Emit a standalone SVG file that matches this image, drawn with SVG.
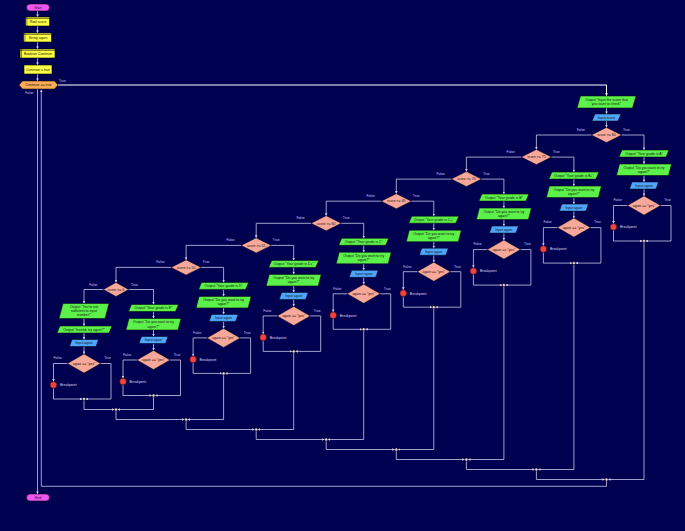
<svg xmlns="http://www.w3.org/2000/svg" width="685" height="531" viewBox="0 0 685 531">
<defs>
<marker id="a" viewBox="0 0 4 4" refX="4" refY="2" markerWidth="2.6" markerHeight="2.6" orient="auto" markerUnits="userSpaceOnUse"><path d="M0,0 L4,2 L0,4 z" fill="#d0d0f0"/></marker>
<marker id="w" viewBox="0 0 4 4" refX="4" refY="2" markerWidth="2.8" markerHeight="2.8" orient="auto" markerUnits="userSpaceOnUse"><path d="M0,0 L4,2 L0,4 z" fill="#ffffff"/></marker>
</defs>
<style>
.c{fill:none;stroke:#c8c8e8;stroke-width:0.8}
.ca{fill:none;stroke:#c8c8e8;stroke-width:0.8;marker-end:url(#a)}
.main{fill:none;stroke:#ffffff;stroke-width:1;marker-end:url(#w)}
.t{font-family:"Liberation Sans",Arial,sans-serif;font-size:3.5px;fill:#111111;text-anchor:middle}
.l{font-family:"Liberation Sans",Arial,sans-serif;font-size:3.4px;fill:#c8c8ff}
.le{font-family:"Liberation Sans",Arial,sans-serif;font-size:3.4px;fill:#c8c8ff;text-anchor:end}
.se{fill:#ee55ee;stroke:#000;stroke-width:0.5}
.dc{fill:#ffff44;stroke:#000;stroke-width:0.6}
.lp{fill:#ffaa55;stroke:#000;stroke-width:0.5}
.out{fill:#5cf04a;stroke:#000;stroke-width:0.5}
.in{fill:#4da6ff;stroke:#000;stroke-width:0.5}
.if{fill:#f8a89a;stroke:#000;stroke-width:0.4}
.bp{fill:#ee4444;stroke:#550000;stroke-width:0.5}
.bt{font-family:"Liberation Sans",Arial,sans-serif;font-size:3.5px;fill:#d8d8ff}
.j{fill:#ffdede;stroke:#000;stroke-width:0.5}
</style>
<rect width="685" height="531" fill="#000050"/>

<g id="connectors">
<path class="ca" d="M37.5 11 V17"/>
<path class="ca" d="M37.5 26 V33"/>
<path class="ca" d="M37.5 42 V49"/>
<path class="ca" d="M37.5 58 V65"/>
<path class="ca" d="M37.5 74 V81"/>
<path class="main" d="M58 85 H606.5 V96"/>
<path class="ca" d="M37.5 89 V494"/>
<path class="ca" d="M606.5 481 V486.3 H41.3 V89.5"/>
<path class="ca" d="M606.5 108 V114"/>
<path class="ca" d="M606.5 121 V127.5"/>
<!-- outer false -->
<path class="ca" d="M591.5 135 H536.4 V149.6"/>
<path class="ca" d="M521.4 157.1 H466.4 V171.6"/>
<path class="ca" d="M451.4 179.1 H396.3 V193.7"/>
<path class="ca" d="M381.3 201.2 H326.2 V215.8"/>
<path class="ca" d="M311.2 223.3 H256.2 V237.9"/>
<path class="ca" d="M241.2 245.4 H186.1 V259.9"/>
<path class="ca" d="M171.1 267.4 H116 V282.5"/>
<path class="ca" d="M103.5 289.5 H84 V303.5"/>
<!-- outer true -->
<path class="ca" d="M621.5 135 H644 V150"/>
<path class="ca" d="M551.4 157.1 H573.9 V172.1"/>
<path class="ca" d="M481.4 179.1 H503.9 V194.1"/>
<path class="ca" d="M411.3 201.2 H433.8 V216.2"/>
<path class="ca" d="M341.2 223.3 H363.7 V238.3"/>
<path class="ca" d="M271.2 245.4 H293.7 V260.4"/>
<path class="ca" d="M201.1 267.4 H223.6 V282.4"/>
<path class="ca" d="M128.5 289.5 H153.5 V304.5"/>
<!-- column k1 -->
<path class="ca" d="M644 157 V164"/><path class="ca" d="M644 175.5 V182"/><path class="ca" d="M644 189 V196"/>
<path class="ca" d="M627.5 205.5 H613.5 V223.7"/><path class="ca" d="M613.5 230.3 V241 H642.5"/><path class="ca" d="M660.5 205.5 H671 V241 H645.5"/>
<!-- column k2 -->
<path class="ca" d="M573.9 179.1 V186.1"/><path class="ca" d="M573.9 197.6 V204.1"/><path class="ca" d="M573.9 211.1 V218.1"/>
<path class="ca" d="M557.4 227.6 H543.4 V245.8"/><path class="ca" d="M543.4 252.4 V263.1 H572.4"/><path class="ca" d="M590.4 227.6 H600.9 V263.1 H575.4"/>
<!-- column k3 -->
<path class="ca" d="M503.9 201.1 V208.1"/><path class="ca" d="M503.9 219.6 V226.1"/><path class="ca" d="M503.9 233.1 V240.1"/>
<path class="ca" d="M487.4 249.6 H473.4 V267.8"/><path class="ca" d="M473.4 274.4 V285.1 H502.4"/><path class="ca" d="M520.4 249.6 H530.9 V285.1 H505.4"/>
<!-- column k4 -->
<path class="ca" d="M433.8 223.2 V230.2"/><path class="ca" d="M433.8 241.7 V248.2"/><path class="ca" d="M433.8 255.2 V262.2"/>
<path class="ca" d="M417.3 271.7 H403.3 V289.9"/><path class="ca" d="M403.3 296.5 V307.2 H432.3"/><path class="ca" d="M450.3 271.7 H460.8 V307.2 H435.3"/>
<!-- column k5 -->
<path class="ca" d="M363.7 245.3 V252.3"/><path class="ca" d="M363.7 263.8 V270.3"/><path class="ca" d="M363.7 277.3 V284.3"/>
<path class="ca" d="M347.2 293.8 H333.2 V312"/><path class="ca" d="M333.2 318.6 V329.3 H362.2"/><path class="ca" d="M380.2 293.8 H390.7 V329.3 H365.2"/>
<!-- column k6 -->
<path class="ca" d="M293.7 267.4 V274.4"/><path class="ca" d="M293.7 285.9 V292.4"/><path class="ca" d="M293.7 299.4 V306.4"/>
<path class="ca" d="M277.2 315.9 H263.2 V334.1"/><path class="ca" d="M263.2 340.7 V351.4 H292.2"/><path class="ca" d="M310.2 315.9 H320.7 V351.4 H295.2"/>
<!-- column k7 -->
<path class="ca" d="M223.6 289.4 V296.4"/><path class="ca" d="M223.6 307.9 V314.4"/><path class="ca" d="M223.6 321.4 V328.4"/>
<path class="ca" d="M207.1 337.9 H193.1 V356.1"/><path class="ca" d="M193.1 362.7 V373.4 H222.1"/><path class="ca" d="M240.1 337.9 H250.6 V373.4 H225.1"/>
<!-- column k8 true -->
<path class="ca" d="M153.5 311.5 V318.5"/><path class="ca" d="M153.5 330 V336.5"/><path class="ca" d="M153.5 343.5 V350.5"/>
<path class="ca" d="M137 360 H123 V378.2"/><path class="ca" d="M123 384.8 V395.5 H152"/><path class="ca" d="M170 360 H180.5 V395.5 H155"/>
<!-- column k8 false -->
<path class="ca" d="M84 318.5 V326"/><path class="ca" d="M84 333 V339.5"/><path class="ca" d="M84 346.5 V354"/>
<path class="ca" d="M67.5 363.5 H53.5 V381.7"/><path class="ca" d="M53.5 388.3 V399 H82.5"/><path class="ca" d="M100.5 363.5 H111 V399 H85.5"/>
<!-- merges -->
<path class="ca" d="M644 242.5 V479.5 H608"/><path class="ca" d="M536.4 471 V479.5 H605"/>
<path class="ca" d="M573.9 264.6 V469.5 H537.9"/><path class="ca" d="M466.4 461 V469.5 H534.9"/>
<path class="ca" d="M503.9 286.6 V459.5 H467.9"/><path class="ca" d="M396.3 451 V459.5 H464.9"/>
<path class="ca" d="M433.8 308.7 V449.5 H397.8"/><path class="ca" d="M326.2 441 V449.5 H394.8"/>
<path class="ca" d="M363.7 330.8 V439.5 H327.7"/><path class="ca" d="M256.2 431 V439.5 H324.7"/>
<path class="ca" d="M293.7 352.9 V429.5 H257.7"/><path class="ca" d="M186.1 421 V429.5 H254.7"/>
<path class="ca" d="M223.6 374.9 V419.5 H187.6"/><path class="ca" d="M116 411 V419.5 H184.6"/>
<path class="ca" d="M153.5 397 V409.5 H117.5"/><path class="ca" d="M84 400.5 V409.5 H114.5"/>
<!-- labels -->
<text class="l" x="59" y="81.5">True</text>
<text class="le" x="33.5" y="93.5">False</text>
<text class="le" x="585" y="131">False</text><text class="l" x="623" y="131">True</text>
<text class="le" x="514.9" y="153.1">False</text><text class="l" x="552.9" y="153.1">True</text>
<text class="le" x="444.9" y="175.1">False</text><text class="l" x="482.9" y="175.1">True</text>
<text class="le" x="374.8" y="197.2">False</text><text class="l" x="412.8" y="197.2">True</text>
<text class="le" x="304.7" y="219.3">False</text><text class="l" x="342.7" y="219.3">True</text>
<text class="le" x="234.7" y="241.4">False</text><text class="l" x="272.7" y="241.4">True</text>
<text class="le" x="164.6" y="263.4">False</text><text class="l" x="202.6" y="263.4">True</text>
<text class="le" x="97.5" y="285.5">False</text><text class="l" x="131" y="285.5">True</text>
<text class="l" x="613.5" y="201.3">False</text><text class="le" x="671" y="201.3">True</text>
<text class="l" x="543.4" y="223.4">False</text><text class="le" x="600.9" y="223.4">True</text>
<text class="l" x="473.4" y="245.4">False</text><text class="le" x="530.9" y="245.4">True</text>
<text class="l" x="403.3" y="267.5">False</text><text class="le" x="460.8" y="267.5">True</text>
<text class="l" x="333.2" y="289.6">False</text><text class="le" x="390.7" y="289.6">True</text>
<text class="l" x="263.2" y="311.7">False</text><text class="le" x="320.7" y="311.7">True</text>
<text class="l" x="193.1" y="333.7">False</text><text class="le" x="250.6" y="333.7">True</text>
<text class="l" x="123" y="355.8">False</text><text class="le" x="180.5" y="355.8">True</text>
<text class="l" x="53.5" y="359.3">False</text><text class="le" x="111" y="359.3">True</text>
</g>

<g id="start"><rect class="se" x="26.5" y="4" width="23" height="7" rx="3.5"/><text class="t" x="38" y="8.7">Start</text></g>
<g id="decl1"><rect class="dc" x="25.5" y="17" width="24" height="9"/><path d="M25.5 18.4 H49.5 M26.9 17 V26" stroke="#000" stroke-width="0.5"/><text class="t" x="38" y="23">Real score</text></g>
<g id="decl2"><rect class="dc" x="23.5" y="33" width="28" height="9"/><path d="M23.5 34.4 H51.5 M24.9 33 V42" stroke="#000" stroke-width="0.5"/><text class="t" x="38" y="39">String again</text></g>
<g id="decl3"><rect class="dc" x="20" y="49" width="35" height="9"/><path d="M20 50.4 H55 M21.4 49 V58" stroke="#000" stroke-width="0.5"/><text class="t" x="38" y="55">Boolean Continue</text></g>
<g id="assign"><rect class="dc" x="24" y="65" width="28" height="9"/><text class="t" x="38" y="70.7">Continue = true</text></g>
<g id="loop"><polygon class="lp" points="19,85 22.5,81 54.5,81 58,85 54.5,89 22.5,89"/><text class="t" x="38.5" y="86.2">Continue == true</text></g>
<g id="end"><rect class="se" x="26.5" y="494" width="23" height="7" rx="3.5"/><text class="t" x="38" y="498.7">End</text></g>

<g id="out-main"><polygon class="out" points="580.5,96 636,96 632.5,108 577,108"/><text class="t" x="606.5" y="101">Output "Input the score that</text><text class="t" x="606.5" y="105.3">you want to check"</text></g>
<g id="in-main"><polygon class="in" points="595,114 621,114 618,121 592,121"/><text class="t" x="606.5" y="118.8">Input score</text></g>

<g id="if1"><polygon class="if" points="606.5,127.5 621.5,135 606.5,142.5 591.5,135"/><text class="t" x="606.5" y="136.2">score &gt;= 80</text></g>
<g id="if2"><polygon class="if" points="536.4,149.6 551.4,157.1 536.4,164.6 521.4,157.1"/><text class="t" x="536.4" y="158.3">score &gt;= 75</text></g>
<g id="if3"><polygon class="if" points="466.4,171.6 481.4,179.1 466.4,186.6 451.4,179.1"/><text class="t" x="466.4" y="180.3">score &gt;= 70</text></g>
<g id="if4"><polygon class="if" points="396.3,193.7 411.3,201.2 396.3,208.7 381.3,201.2"/><text class="t" x="396.3" y="202.4">score &gt;= 65</text></g>
<g id="if5"><polygon class="if" points="326.2,215.8 341.2,223.3 326.2,230.8 311.2,223.3"/><text class="t" x="326.2" y="224.5">score &gt;= 60</text></g>
<g id="if6"><polygon class="if" points="256.2,237.9 271.2,245.4 256.2,252.9 241.2,245.4"/><text class="t" x="256.2" y="246.6">score &gt;= 55</text></g>
<g id="if7"><polygon class="if" points="186.1,259.9 201.1,267.4 186.1,274.9 171.1,267.4"/><text class="t" x="186.1" y="268.6">score &gt;= 50</text></g>
<g id="if8"><polygon class="if" points="116,282.5 128.5,289.5 116,296.5 103.5,289.5"/><text class="t" x="116" y="290.7">score &gt;= 0</text></g>

<!-- column 1 -->
<g id="o1a"><polygon class="out" points="622,150 669,150 666,157 619,157"/><text class="t" x="644" y="154.8">Output "Your grade is A"</text></g>
<g id="o1b"><polygon class="out" points="619.5,164 671.5,164 668.5,175.5 616.5,175.5"/><text class="t" x="644" y="168.8">Output "Do you want to try</text><text class="t" x="644" y="173">again?"</text></g>
<g id="i1"><polygon class="in" points="632,182 658.5,182 656,189 629.5,189"/><text class="t" x="644" y="186.8">Input again</text></g>
<g id="d1"><polygon class="if" points="644,196 660.5,205.5 644,215 627.5,205.5"/><text class="t" x="644" y="206.8">again == "yes"</text></g>
<g id="b1"><circle class="bp" cx="613.5" cy="227" r="3.3"/><text class="bt" x="620" y="228.3">Breakpoint</text></g>
<g id="j1"><circle class="j" cx="644" cy="241" r="1.5"/></g>
<!-- column 2 -->
<g id="o2a"><polygon class="out" points="551.9,172.1 598.9,172.1 595.9,179.1 548.9,179.1"/><text class="t" x="573.9" y="176.9">Output "Your grade is B+"</text></g>
<g id="o2b"><polygon class="out" points="549.4,186.1 601.4,186.1 598.4,197.6 546.4,197.6"/><text class="t" x="573.9" y="190.9">Output "Do you want to try</text><text class="t" x="573.9" y="195.1">again?"</text></g>
<g id="i2"><polygon class="in" points="561.9,204.1 588.4,204.1 585.9,211.1 559.4,211.1"/><text class="t" x="573.9" y="208.9">Input again</text></g>
<g id="d2"><polygon class="if" points="573.9,218.1 590.4,227.6 573.9,237.1 557.4,227.6"/><text class="t" x="573.9" y="228.9">again == "yes"</text></g>
<g id="b2"><circle class="bp" cx="543.4" cy="249.1" r="3.3"/><text class="bt" x="549.9" y="250.4">Breakpoint</text></g>
<g id="j2"><circle class="j" cx="573.9" cy="263.1" r="1.5"/></g>
<!-- column 3 -->
<g id="o3a"><polygon class="out" points="481.9,194.1 528.9,194.1 525.9,201.1 478.9,201.1"/><text class="t" x="503.9" y="198.9">Output "Your grade is B"</text></g>
<g id="o3b"><polygon class="out" points="479.4,208.1 531.4,208.1 528.4,219.6 476.4,219.6"/><text class="t" x="503.9" y="212.9">Output "Do you want to try</text><text class="t" x="503.9" y="217.1">again?"</text></g>
<g id="i3"><polygon class="in" points="491.9,226.1 518.4,226.1 515.9,233.1 489.4,233.1"/><text class="t" x="503.9" y="230.9">Input again</text></g>
<g id="d3"><polygon class="if" points="503.9,240.1 520.4,249.6 503.9,259.1 487.4,249.6"/><text class="t" x="503.9" y="250.9">again == "yes"</text></g>
<g id="b3"><circle class="bp" cx="473.4" cy="271.1" r="3.3"/><text class="bt" x="479.9" y="272.4">Breakpoint</text></g>
<g id="j3"><circle class="j" cx="503.9" cy="285.1" r="1.5"/></g>
<!-- column 4 -->
<g id="o4a"><polygon class="out" points="411.8,216.2 458.8,216.2 455.8,223.2 408.8,223.2"/><text class="t" x="433.8" y="221">Output "Your grade is C+"</text></g>
<g id="o4b"><polygon class="out" points="409.3,230.2 461.3,230.2 458.3,241.7 406.3,241.7"/><text class="t" x="433.8" y="235">Output "Do you want to try</text><text class="t" x="433.8" y="239.2">again?"</text></g>
<g id="i4"><polygon class="in" points="421.8,248.2 448.3,248.2 445.8,255.2 419.3,255.2"/><text class="t" x="433.8" y="253">Input again</text></g>
<g id="d4"><polygon class="if" points="433.8,262.2 450.3,271.7 433.8,281.2 417.3,271.7"/><text class="t" x="433.8" y="273">again == "yes"</text></g>
<g id="b4"><circle class="bp" cx="403.3" cy="293.2" r="3.3"/><text class="bt" x="409.8" y="294.5">Breakpoint</text></g>
<g id="j4"><circle class="j" cx="433.8" cy="307.2" r="1.5"/></g>
<!-- column 5 -->
<g id="o5a"><polygon class="out" points="341.7,238.3 388.7,238.3 385.7,245.3 338.7,245.3"/><text class="t" x="363.7" y="243.1">Output "Your grade is C"</text></g>
<g id="o5b"><polygon class="out" points="339.2,252.3 391.2,252.3 388.2,263.8 336.2,263.8"/><text class="t" x="363.7" y="257.1">Output "Do you want to try</text><text class="t" x="363.7" y="261.3">again?"</text></g>
<g id="i5"><polygon class="in" points="351.7,270.3 378.2,270.3 375.7,277.3 349.2,277.3"/><text class="t" x="363.7" y="275.1">Input again</text></g>
<g id="d5"><polygon class="if" points="363.7,284.3 380.2,293.8 363.7,303.3 347.2,293.8"/><text class="t" x="363.7" y="295.1">again == "yes"</text></g>
<g id="b5"><circle class="bp" cx="333.2" cy="315.3" r="3.3"/><text class="bt" x="339.7" y="316.6">Breakpoint</text></g>
<g id="j5"><circle class="j" cx="363.7" cy="329.3" r="1.5"/></g>
<!-- column 6 -->
<g id="o6a"><polygon class="out" points="271.7,260.4 318.7,260.4 315.7,267.4 268.7,267.4"/><text class="t" x="293.7" y="265.2">Output "Your grade is D+"</text></g>
<g id="o6b"><polygon class="out" points="269.2,274.4 321.2,274.4 318.2,285.9 266.2,285.9"/><text class="t" x="293.7" y="279.2">Output "Do you want to try</text><text class="t" x="293.7" y="283.4">again?"</text></g>
<g id="i6"><polygon class="in" points="281.7,292.4 308.2,292.4 305.7,299.4 279.2,299.4"/><text class="t" x="293.7" y="297.2">Input again</text></g>
<g id="d6"><polygon class="if" points="293.7,306.4 310.2,315.9 293.7,325.4 277.2,315.9"/><text class="t" x="293.7" y="317.2">again == "yes"</text></g>
<g id="b6"><circle class="bp" cx="263.2" cy="337.4" r="3.3"/><text class="bt" x="269.7" y="338.7">Breakpoint</text></g>
<g id="j6"><circle class="j" cx="293.7" cy="351.4" r="1.5"/></g>
<!-- column 7 -->
<g id="o7a"><polygon class="out" points="201.6,282.4 248.6,282.4 245.6,289.4 198.6,289.4"/><text class="t" x="223.6" y="287.2">Output "Your grade is D"</text></g>
<g id="o7b"><polygon class="out" points="199.1,296.4 251.1,296.4 248.1,307.9 196.1,307.9"/><text class="t" x="223.6" y="301.2">Output "Do you want to try</text><text class="t" x="223.6" y="305.4">again?"</text></g>
<g id="i7"><polygon class="in" points="211.6,314.4 238.1,314.4 235.6,321.4 209.1,321.4"/><text class="t" x="223.6" y="319.2">Input again</text></g>
<g id="d7"><polygon class="if" points="223.6,328.4 240.1,337.9 223.6,347.4 207.1,337.9"/><text class="t" x="223.6" y="339.2">again == "yes"</text></g>
<g id="b7"><circle class="bp" cx="193.1" cy="359.4" r="3.3"/><text class="bt" x="199.6" y="360.7">Breakpoint</text></g>
<g id="j7"><circle class="j" cx="223.6" cy="373.4" r="1.5"/></g>
<!-- column 8 true -->
<g id="o8a"><polygon class="out" points="131.5,304.5 178.5,304.5 175.5,311.5 128.5,311.5"/><text class="t" x="153.5" y="309.3">Output "Your grade is E"</text></g>
<g id="o8b"><polygon class="out" points="129,318.5 181,318.5 178,330 126,330"/><text class="t" x="153.5" y="323.3">Output "Do you want to try</text><text class="t" x="153.5" y="327.5">again?"</text></g>
<g id="i8"><polygon class="in" points="141.5,336.5 168,336.5 165.5,343.5 139,343.5"/><text class="t" x="153.5" y="341.3">Input again</text></g>
<g id="d8"><polygon class="if" points="153.5,350.5 170,360 153.5,369.5 137,360"/><text class="t" x="153.5" y="361.3">again == "yes"</text></g>
<g id="b8"><circle class="bp" cx="123" cy="381.5" r="3.3"/><text class="bt" x="129.5" y="382.8">Breakpoint</text></g>
<g id="j8"><circle class="j" cx="153.5" cy="395.5" r="1.5"/></g>
<!-- column 8 false -->
<g id="o9a"><polygon class="out" points="63,303.5 109,303.5 105,318.5 59,318.5"/><text class="t" x="84" y="308">Output "You're not</text><text class="t" x="84" y="312.2">sufficient to input</text><text class="t" x="84" y="316.4">number!"</text></g>
<g id="o9b"><polygon class="out" points="60,326 112,326 109,333 57,333"/><text class="t" x="84" y="330.8">Output "Invalid, try again?"</text></g>
<g id="i9"><polygon class="in" points="72,339.5 98.5,339.5 96,346.5 69.5,346.5"/><text class="t" x="84" y="344.3">Input again</text></g>
<g id="d9"><polygon class="if" points="84,354 100.5,363.5 84,373 67.5,363.5"/><text class="t" x="84" y="364.8">again == "yes"</text></g>
<g id="b9"><circle class="bp" cx="53.5" cy="385" r="3.3"/><text class="bt" x="60" y="386.3">Breakpoint</text></g>
<g id="j9"><circle class="j" cx="84" cy="399" r="1.5"/></g>
<!-- merge junctions -->
<g id="m1"><circle class="j" cx="606.5" cy="479.5" r="1.5"/></g>
<g id="m2"><circle class="j" cx="536.4" cy="469.5" r="1.5"/></g>
<g id="m3"><circle class="j" cx="466.4" cy="459.5" r="1.5"/></g>
<g id="m4"><circle class="j" cx="396.3" cy="449.5" r="1.5"/></g>
<g id="m5"><circle class="j" cx="326.2" cy="439.5" r="1.5"/></g>
<g id="m6"><circle class="j" cx="256.2" cy="429.5" r="1.5"/></g>
<g id="m7"><circle class="j" cx="186.1" cy="419.5" r="1.5"/></g>
<g id="m8"><circle class="j" cx="116" cy="409.5" r="1.5"/></g>
</svg>
